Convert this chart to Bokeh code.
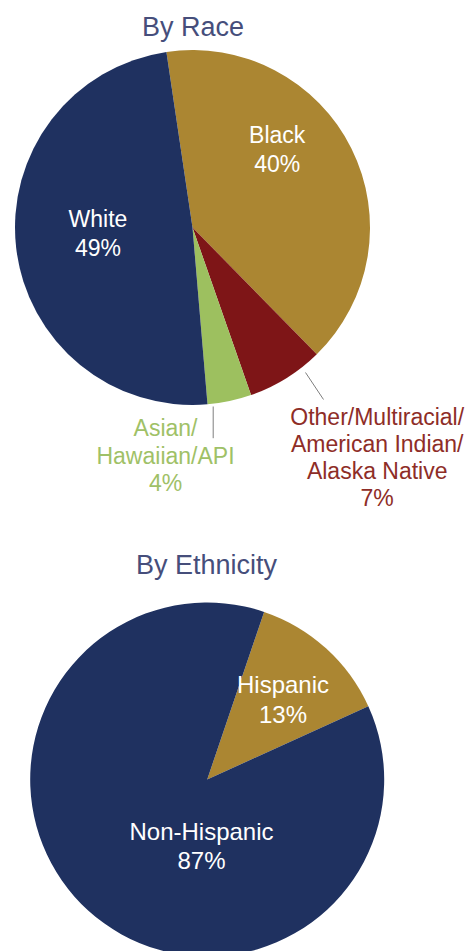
import math
from bokeh.plotting import figure
from bokeh.models import Range1d, ColumnDataSource
from bokeh.embed import file_html
from bokeh.resources import INLINE
from bokeh.core.properties import value

# ---------------- data ----------------
race_title = "By Race"
race_labels = ["Black", "Other/Multiracial/\nAmerican Indian/\nAlaska Native", "Asian/\nHawaiian/API", "White"]
race_values = [40, 7, 4, 49]

eth_title = "By Ethnicity"
eth_labels = ["Hispanic", "Non-Hispanic"]
eth_values = [13, 87]

# ---------------- style ----------------
NAVY = "#1f3160"
GOLD = "#ab8632"
DRED = "#7e1517"
GREEN = "#9dc05f"
TITLE = "#464e7b"
RED_TXT = "#8e2d27"
GREEN_TXT = "#9fc167"
FONT = "Liberation Sans"
TEXT_DY = -9.0  # baseline correction for text rendering

race_colors = [GOLD, DRED, GREEN, NAVY]
race_text_colors = ["white", RED_TXT, GREEN_TXT, "white"]
# label anchors: (x, first baseline y, line spacing) in page pixels
race_anchor = [(276.7, 143.3, 29.0), (376.7, 425.0, 27.2), (165.0, 436.7, 27.5), (97.5, 227.3, 29.4)]
race_center = (192.0, 227.0)
race_radius = 177.5
race_start = 98.45  # degrees, slices go clockwise

eth_colors = [GOLD, NAVY]
eth_text_colors = ["white", "white"]
eth_anchor = [(282.5, 693.3, 29.4), (201.0, 840.0, 29.3)]
eth_center = (206.7, 779.0)
eth_radius = 177.0
eth_start = 71.25

W, H = 465, 951
p = figure(width=W, height=H, x_range=Range1d(0, W), y_range=Range1d(-H, 0),
           output_backend="svg", toolbar_location=None, min_border=0)
p.axis.visible = False
p.grid.visible = False
p.outline_line_color = None
p.background_fill_color = "white"


def pie(values, colors, center, radius, start_deg):
    total = float(sum(values))
    a0 = math.radians(start_deg)
    starts, ends = [], []
    cum = 0.0
    for v in values:
        s = a0 - (cum + v) / total * 2 * math.pi
        e = a0 - cum / total * 2 * math.pi
        starts.append(s)
        ends.append(e)
        cum += v
    src = ColumnDataSource(dict(x=[center[0]] * len(values), y=[-center[1]] * len(values),
                                start=starts, end=ends, color=colors))
    p.wedge(x="x", y="y", radius=radius, start_angle="start", end_angle="end",
            fill_color="color", line_color=None, source=src)


def labels(names, values, anchors, colors, size):
    xs, ys, ts, cs = [], [], [], []
    for name, v, (ax, ay, sp), c in zip(names, values, anchors, colors):
        lines = name.split("\n") + [f"{v}%"]
        for i, ln in enumerate(lines):
            xs.append(ax)
            ys.append(-(ay + i * sp + TEXT_DY))
            ts.append(ln)
            cs.append(c)
    src = ColumnDataSource(dict(x=xs, y=ys, t=ts, c=cs))
    p.text(x="x", y="y", text="t", text_color="c", source=src, text_align="center",
           text_baseline="alphabetic", text_font=value(FONT), text_font_size=size)


pie(race_values, race_colors, race_center, race_radius, race_start)
pie(eth_values, eth_colors, eth_center, eth_radius, eth_start)

# leader lines
p.segment(x0=[212.7, 305.0], y0=[-406.0, -372.0], x1=[212.7, 323.0], y1=[-437.7, -399.0],
          line_color="#7f7f7f", line_width=1)

labels(race_labels, race_values, race_anchor, race_text_colors, "23px")
labels(eth_labels, eth_values, eth_anchor, eth_text_colors, "24px")

p.text(x=[192.5, 206.0], y=[-(35.0 + TEXT_DY), -(573.3 + TEXT_DY)], text=[race_title, eth_title],
       text_color=TITLE, text_align="center", text_baseline="alphabetic", text_font=value(FONT),
       text_font_size="27px")

open("out.html", "w").write(file_html(p, INLINE))
